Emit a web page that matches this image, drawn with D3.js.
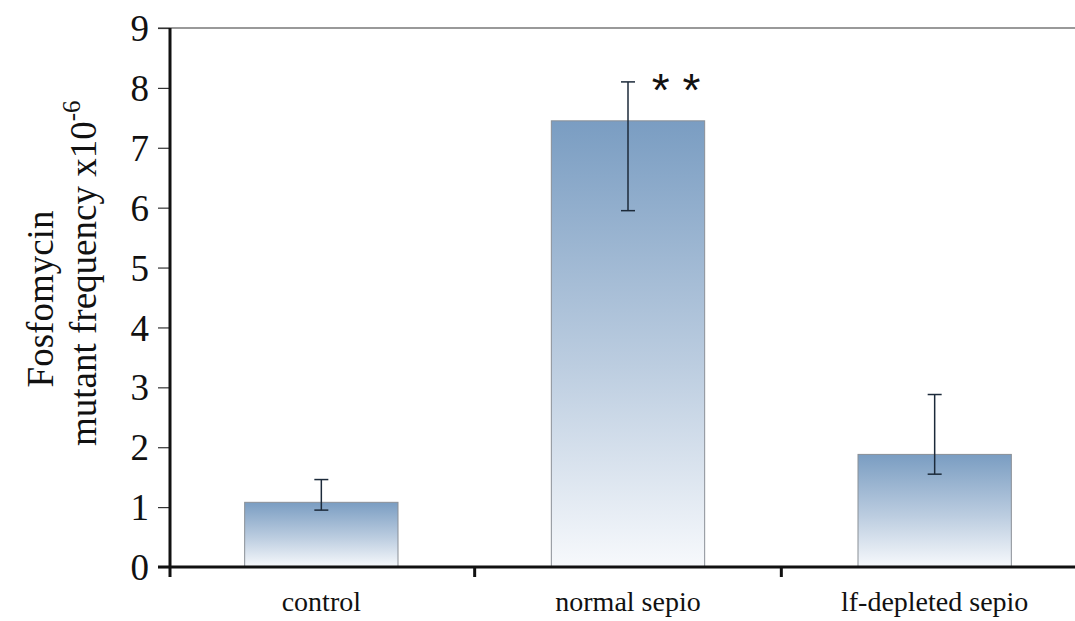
<!DOCTYPE html>
<html>
<head>
<meta charset="utf-8">
<script src="https://cdn.jsdelivr.net/npm/d3@7"></script>
<style>
  body { margin: 0; background: #fff; }
  text { font-family: "Liberation Serif", "Times New Roman", serif; fill: #111; }
</style>
</head>
<body>
<div id="graf"></div>
<script>
// Datos
const categorias = ["control", "normal sepio", "lf-depleted sepio"]
const medias = [1.08, 7.45, 1.88]
const errorBajo = [0.95, 5.95, 1.55]
const errorAlto = [1.46, 8.1, 2.88]
const marcas = ["", "* *", ""]
const yTicks = [0, 1, 2, 3, 4, 5, 6, 7, 8, 9]

// Dimensiones
const anchoTotal = 1075
const altoTotal = 621

const svg = d3.select("#graf")
  .append("svg")
  .attr("width", anchoTotal)
  .attr("height", altoTotal)

const data = categorias.map((c, i) => ({
  cat: c, v: medias[i], lo: errorBajo[i], hi: errorAlto[i], m: marcas[i]
}))

// Escaladores
const y = d3.scaleLinear().domain([0, 9]).range([567, 28])
const x = d3.scaleBand().domain(categorias).range([168, 1088])
  .paddingInner(0.5).paddingOuter(0.25)

// Degradado
const defs = svg.append("defs")
const grad = defs.append("linearGradient")
  .attr("id", "barGrad")
  .attr("x1", 0).attr("y1", 0).attr("x2", 0).attr("y2", 1)
grad.append("stop").attr("offset", "0%").attr("stop-color", "#7a9dc2")
grad.append("stop").attr("offset", "55%").attr("stop-color", "#bccde0")
grad.append("stop").attr("offset", "100%").attr("stop-color", "#f7f9fc")

// Linea superior (9)
svg.append("line")
  .attr("x1", 158).attr("x2", anchoTotal)
  .attr("y1", y(9)).attr("y2", y(9))
  .attr("stroke", "#777").attr("stroke-width", 1.5)

// Barras
svg.selectAll("rect.bar")
  .data(data)
  .enter()
  .append("rect")
  .attr("class", "bar")
  .attr("x", d => x(d.cat))
  .attr("y", d => y(d.v))
  .attr("width", x.bandwidth())
  .attr("height", d => y(0) - y(d.v))
  .attr("fill", "url(#barGrad)")
  .attr("stroke", "#8a8f96")
  .attr("stroke-width", 1)

// Barras de error
const err = svg.append("g").attr("stroke", "#1c2a3a").attr("stroke-width", 1.5)
data.forEach(d => {
  const cx = x(d.cat) + x.bandwidth() / 2
  err.append("line").attr("x1", cx).attr("x2", cx).attr("y1", y(d.hi)).attr("y2", y(d.lo))
  err.append("line").attr("x1", cx - 7).attr("x2", cx + 7).attr("y1", y(d.hi)).attr("y2", y(d.hi))
  err.append("line").attr("x1", cx - 7).attr("x2", cx + 7).attr("y1", y(d.lo)).attr("y2", y(d.lo))
})

// Asteriscos
svg.selectAll("text.marca")
  .data(data.filter(d => d.m))
  .enter()
  .append("text")
  .attr("class", "marca")
  .attr("x", d => x(d.cat) + x.bandwidth() / 2 + 48)
  .attr("y", d => y(d.hi) + 24)
  .attr("text-anchor", "middle")
  .style("font-family", "'Liberation Sans', Arial, sans-serif")
  .style("font-size", "46px")
  .text(d => d.m)

// Eje Y
const yAxis = d3.axisLeft(y).tickValues(yTicks).tickSize(12).tickSizeOuter(0).tickPadding(9)
const gy = svg.append("g").attr("transform", "translate(170,0)").call(yAxis)
gy.select(".domain").remove()
gy.selectAll(".tick line").attr("stroke", "#333").attr("stroke-width", 1.2)
gy.selectAll(".tick text")
  .style("font-size", "37px")
  .style("font-family", "'Liberation Serif', 'Times New Roman', serif")
  .attr("fill", "#111")
  .attr("dy", "0.34em")
svg.append("line")
  .attr("x1", 170).attr("x2", 170)
  .attr("y1", y(9)).attr("y2", 577)
  .attr("stroke", "#111").attr("stroke-width", 3)

// Eje X
svg.append("line")
  .attr("x1", 158).attr("x2", anchoTotal)
  .attr("y1", y(0)).attr("y2", y(0))
  .attr("stroke", "#111").attr("stroke-width", 3)

const limites = categorias.slice(0, -1).map(c => x(c) + x.bandwidth() + (x.step() - x.bandwidth()) / 2)
svg.selectAll("line.xtick")
  .data(limites)
  .enter()
  .append("line")
  .attr("class", "xtick")
  .attr("x1", d => d).attr("x2", d => d)
  .attr("y1", y(0)).attr("y2", y(0) + 10)
  .attr("stroke", "#111").attr("stroke-width", 3)

const xAxis = d3.axisBottom(x).tickSize(0).tickPadding(0)
const gx = svg.append("g").attr("transform", `translate(0, ${y(0)})`).call(xAxis)
gx.select(".domain").remove()
gx.selectAll(".tick text")
  .attr("y", 44).attr("dy", 0)
  .style("font-size", "28px")
  .style("font-family", "'Liberation Serif', 'Times New Roman', serif")
  .attr("fill", "#111")

// Titulo eje Y
svg.append("text")
  .attr("transform", "translate(53, 299) rotate(-90)")
  .attr("text-anchor", "middle")
  .style("font-size", "37px")
  .text("Fosfomycin")

const t2 = svg.append("text")
  .attr("transform", "translate(96, 446) rotate(-90)")
  .attr("text-anchor", "start")
  .style("font-size", "37px")
t2.append("tspan").text("mutant frequency x10")
t2.append("tspan").attr("dy", -16).style("font-size", "25px").text("-6")
</script>
</body>
</html>
